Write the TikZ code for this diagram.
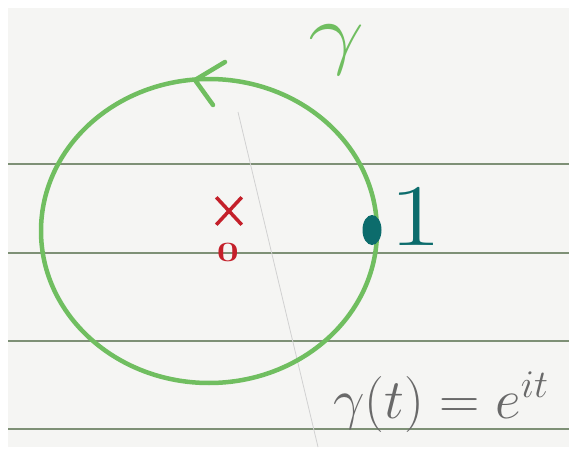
\documentclass[tikz,border=0pt]{standalone}
\usepackage{fix-cm}
\usetikzlibrary{positioning, shapes.geometric, shapes.misc}
\definecolor{paper}{RGB}{245,245,243}
\definecolor{ruleInk}{RGB}{126,144,118}
\definecolor{penGreen}{RGB}{112,190,96}
\definecolor{redInk}{RGB}{196,32,42}
\definecolor{tealInk}{RGB}{12,108,108}
\definecolor{pencilInk}{RGB}{105,105,105}

\begin{document}
\begin{tikzpicture}[x=1pt,y=-1pt,
  pen/.style={penGreen, line width=4.5pt, line cap=round, line join=round},
  rule/.style={ruleInk, line width=1.2pt}]
\useasboundingbox (0,0) rectangle (574,455);
\fill [white] (0,0) rectangle (574,455);
\fill [paper] (8,8) rectangle (569,447);
% ruled lines of the sheet
\foreach \y in {164,253,341,429} {
  \draw [rule] (8,\y) -- (569,\y);
}
\draw [black!18, line width=0.8pt] (238,112) -- (318,447);
% the contour
\coordinate (centre) at (209,231);
\draw [pen] (centre) ellipse [x radius=168, y radius=152];
\coordinate (tip) at (195,80);
\draw [pen] (225,62) -- (tip) -- (213,105);
\node [text=penGreen, font=\fontsize{80}{80}\selectfont, inner sep=0pt,
       xscale=1.25] (gamma) at (337,50) {$\gamma$};
% origin and starting point
\node [draw=redInk, cross out, line width=3.5pt, minimum width=22pt,
       minimum height=24pt, inner sep=0pt] (origin) at (229,211) {};
\node [text=redInk, font=\bfseries\fontsize{28}{28}\selectfont, inner sep=0pt,
       xscale=1.4] (zero) at (228,252) {0};
\node [fill=tealInk, ellipse, minimum width=19pt, minimum height=30pt,
       inner sep=0pt] (start) at (372,230) {};
\node [text=tealInk, font=\fontsize{88}{88}\selectfont, anchor=base west,
       inner sep=0pt, xscale=1.3] (one) at (389,245) {1};
% parametrisation
\node [text=pencilInk, font=\fontsize{56}{56}\selectfont, anchor=base west,
       inner sep=0pt] (param) at (333,418) {$\gamma(t) = e^{it}$};
\end{tikzpicture}
\end{document}
